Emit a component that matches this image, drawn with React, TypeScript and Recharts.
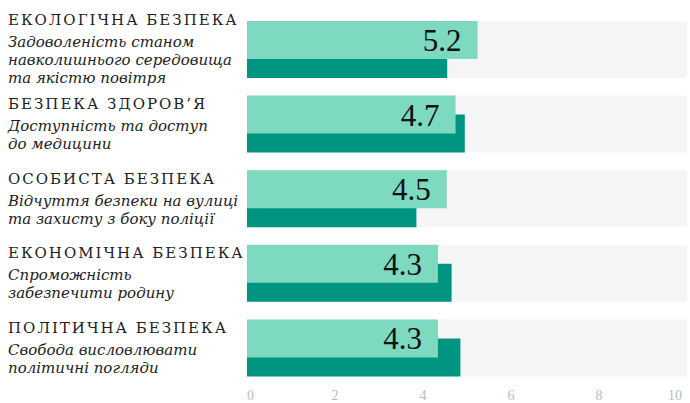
import { BarChart, Bar, XAxis, YAxis, LabelList } from 'recharts'

const headings = [
  'ЕКОЛОГІЧНА БЕЗПЕКА',
  'БЕЗПЕКА ЗДОРОВ’Я',
  'ОСОБИСТА БЕЗПЕКА',
  'ЕКОНОМІЧНА БЕЗПЕКА',
  'ПОЛІТИЧНА БЕЗПЕКА',
]

const subtitles = [
  ['Задоволеність станом', 'навколишнього середовища', 'та якістю повітря'],
  ['Доступність та доступ', 'до медицини'],
  ['Відчуття безпеки на вулиці', 'та захисту з боку поліції'],
  ['Спроможність', 'забезпечити родину'],
  ['Свобода висловлювати', 'політичні погляди'],
]

// light bars (labelled) and dark bars (unlabelled)
const current = [5.24, 4.74, 4.54, 4.34, 4.34]
const previous = [4.55, 4.95, 3.85, 4.65, 4.85]

const xTicks = [0, 2, 4, 6, 8, 10]

const data = headings.map((heading, i) => ({
  heading,
  current: current[i],
  previous: previous[i],
}))

const LIGHT = '#7DD9BF'
const DARK = '#009580'
const TRACK = '#F5F5F5'
const SERIF = '"DejaVu Serif", serif'

function RowLabel({ y, payload }: { y?: number; payload?: { value: string } }) {
  if (y == null || !payload) return null
  const idx = headings.indexOf(payload.value)
  const lines = subtitles[idx] || []
  const last = 22 + (lines.length - 1) * 18
  const top = y - last / 2
  return (
    <g>
      <text
        x={8}
        y={top}
        dy={5}
        fontFamily={SERIF}
        fontSize={15}
        letterSpacing={2}
        fill="#222"
      >
        {payload.value}
      </text>
      {lines.map((line, j) => (
        <text
          key={j}
          x={8}
          y={top + 22 + j * 18}
          dy={5}
          fontFamily={SERIF}
          fontStyle="italic"
          fontSize={15}
          fill="#222"
        >
          {line}
        </text>
      ))}
    </g>
  )
}

function AxisTick({ x, y, payload }: { x?: number; y?: number; payload?: { value: number } }) {
  if (x == null || y == null || !payload) return null
  const v = payload.value
  const anchor = v === xTicks[0] ? 'start' : v === xTicks[xTicks.length - 1] ? 'end' : 'middle'
  return (
    <text
      x={x}
      y={y}
      dy={15}
      textAnchor={anchor}
      fontFamily='"Liberation Serif", serif'
      fontSize={14}
      fill="#BBBBBB"
    >
      {v}
    </text>
  )
}

export default function App() {
  return (
    <div style={{ position: 'fixed', left: 0, top: 0, background: '#fff' }}>
      <BarChart
        width={690}
        height={403}
        data={data}
        layout="vertical"
        barSize={38}
        barGap={-57}
        margin={{ top: 12, right: 3, left: 0, bottom: 0 }}
      >
        <XAxis
          type="number"
          domain={[0, 10]}
          ticks={xTicks}
          axisLine={false}
          tickLine={false}
          tickSize={0}
          tickMargin={0}
          height={18}
          tick={<AxisTick />}
        />
        <YAxis
          type="category"
          dataKey="heading"
          width={247}
          axisLine={false}
          tickLine={false}
          tick={<RowLabel />}
        />
        <Bar
          dataKey="previous"
          fill={DARK}
          background={{ fill: TRACK }}
          isAnimationActive={false}
        />
        <Bar
          dataKey="current"
          fill={LIGHT}
          background={(p: any) => (
            <rect x={p.x} y={p.y} width={p.width} height={p.height / 2} fill={TRACK} />
          )}
          isAnimationActive={false}
        >
          <LabelList
            dataKey="current"
            position="insideRight"
            offset={16}
            formatter={(v: any) => Number(v).toFixed(1)}
            fontFamily='"Liberation Serif", serif'
            fontSize={31}
            fill="#111"
          />
        </Bar>
      </BarChart>
    </div>
  )
}
